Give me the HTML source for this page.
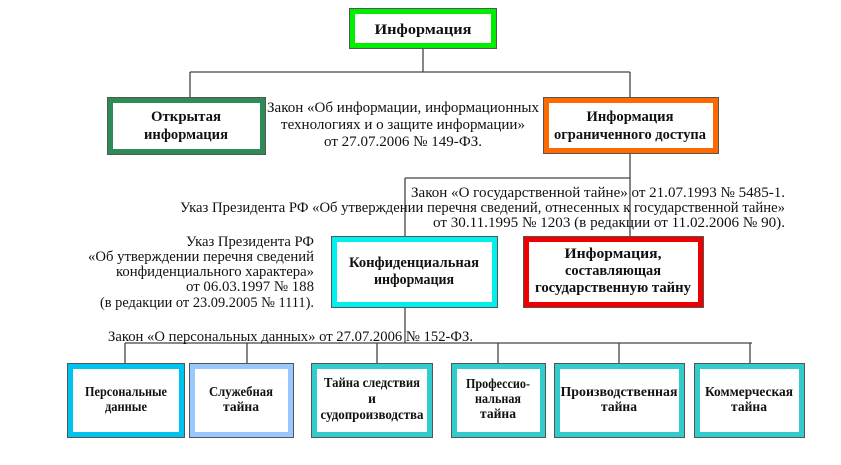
<!DOCTYPE html>
<html><head><meta charset="utf-8"><style>
html,body{margin:0;padding:0;background:#fff;width:841px;height:465px;overflow:hidden}
svg{display:block}
text{font-family:"Liberation Serif","DejaVu Serif",serif;fill:#111}
.b{font-weight:bold;font-size:15px}
.t{font-size:15px}
</style></head><body>
<svg width="841" height="465" viewBox="0 0 841 465" xmlns="http://www.w3.org/2000/svg">
<g stroke="#444" stroke-width="1.3" fill="none">
<path d="M423 48V72M190 72H630M190 72V97M630 72V97"/>
<path d="M630 153V178M405 178H630M405 178V237M630 178V237"/>
<path d="M405 308V343M125 343H752M125 343V363M247 343V363M377 343V363M498 343V363M619 343V363M750 343V363"/>
</g>
<g stroke-linejoin="miter">
<rect x="349.5" y="8.5" width="147" height="40" fill="#fff" stroke="#555" stroke-width="1"/>
<rect x="352.5" y="11.5" width="141" height="34" fill="#fff" stroke="#00ee00" stroke-width="5"/>
<rect x="107.5" y="97.5" width="158" height="57" fill="#fff" stroke="#555"/>
<rect x="110.5" y="100.5" width="152" height="51" fill="#fff" stroke="#2e8b57" stroke-width="5"/>
<rect x="543.5" y="97.5" width="175" height="56" fill="#fff" stroke="#555"/>
<rect x="546.5" y="100.5" width="169" height="50" fill="#fff" stroke="#ff6a00" stroke-width="5"/>
<rect x="331.5" y="236.5" width="166" height="71" fill="#fff" stroke="#555"/>
<rect x="334.5" y="239.5" width="160" height="65" fill="#fff" stroke="#00f0f0" stroke-width="5"/>
<rect x="523.5" y="236.5" width="180" height="71" fill="#fff" stroke="#555"/>
<rect x="526.5" y="239.5" width="174" height="65" fill="#fff" stroke="#ee0000" stroke-width="5"/>
<rect x="67.5" y="363.5" width="117" height="74" fill="#fff" stroke="#555"/>
<rect x="70.5" y="366.5" width="111" height="68" fill="#fff" stroke="#00c4f0" stroke-width="5"/>
<rect x="189.5" y="363.5" width="104" height="74" fill="#fff" stroke="#555"/>
<rect x="192.5" y="366.5" width="98" height="68" fill="#fff" stroke="#99c8ff" stroke-width="5"/>
<rect x="311.5" y="363.5" width="121" height="74" fill="#fff" stroke="#555"/>
<rect x="314.5" y="366.5" width="115" height="68" fill="#fff" stroke="#33cccc" stroke-width="5"/>
<rect x="451.5" y="363.5" width="94" height="74" fill="#fff" stroke="#555"/>
<rect x="454.5" y="366.5" width="88" height="68" fill="#fff" stroke="#33cccc" stroke-width="5"/>
<rect x="554.5" y="363.5" width="130" height="74" fill="#fff" stroke="#555"/>
<rect x="557.5" y="366.5" width="124" height="68" fill="#fff" stroke="#33cccc" stroke-width="5"/>
<rect x="694.5" y="363.5" width="110" height="74" fill="#fff" stroke="#555"/>
<rect x="697.5" y="366.5" width="104" height="68" fill="#fff" stroke="#33cccc" stroke-width="5"/>
</g>
<g class="b" text-anchor="middle">
<text x="423" y="34" textLength="97" lengthAdjust="spacingAndGlyphs">Информация</text>
<text x="186" y="121" textLength="70" lengthAdjust="spacingAndGlyphs">Открытая</text>
<text x="186" y="139" textLength="84" lengthAdjust="spacingAndGlyphs">информация</text>
<text x="630" y="121" textLength="87" lengthAdjust="spacingAndGlyphs">Информация</text>
<text x="630" y="139" textLength="152" lengthAdjust="spacingAndGlyphs">ограниченного доступа</text>
<text x="414" y="267" textLength="130" lengthAdjust="spacingAndGlyphs">Конфиденциальная</text>
<text x="414" y="284" textLength="80" lengthAdjust="spacingAndGlyphs">информация</text>
<text x="613" y="258" textLength="97" lengthAdjust="spacingAndGlyphs">Информация,</text>
<text x="613" y="275" textLength="96" lengthAdjust="spacingAndGlyphs">составляющая</text>
<text x="613" y="292" textLength="156" lengthAdjust="spacingAndGlyphs">государственную тайну</text>
<g style="font-size:13.5px">
<text x="126" y="396" textLength="82" lengthAdjust="spacingAndGlyphs">Персональные</text>
<text x="126" y="411" textLength="42" lengthAdjust="spacingAndGlyphs">данные</text>
<text x="241" y="396" textLength="64" lengthAdjust="spacingAndGlyphs">Служебная</text>
<text x="241" y="411" textLength="36" lengthAdjust="spacingAndGlyphs">тайна</text>
<text x="372" y="387" textLength="96" lengthAdjust="spacingAndGlyphs">Тайна следствия</text>
<text x="372" y="403">и</text>
<text x="372" y="419" textLength="103" lengthAdjust="spacingAndGlyphs">судопроизводства</text>
<text x="498" y="388" textLength="64" lengthAdjust="spacingAndGlyphs">Профессио-</text>
<text x="498" y="403" textLength="46" lengthAdjust="spacingAndGlyphs">нальная</text>
<text x="498" y="418" textLength="36" lengthAdjust="spacingAndGlyphs">тайна</text>
<text x="619" y="396" textLength="117" lengthAdjust="spacingAndGlyphs">Производственная</text>
<text x="619" y="411" textLength="36" lengthAdjust="spacingAndGlyphs">тайна</text>
<text x="749" y="396" textLength="88" lengthAdjust="spacingAndGlyphs">Коммерческая</text>
<text x="749" y="411" textLength="36" lengthAdjust="spacingAndGlyphs">тайна</text>
</g>
</g>
<g class="t">
<g text-anchor="middle">
<text x="403" y="112" textLength="272" lengthAdjust="spacingAndGlyphs">Закон «Об информации, информационных</text>
<text x="403" y="129" textLength="244" lengthAdjust="spacingAndGlyphs">технологиях и о защите информации»</text>
<text x="403" y="146" textLength="158" lengthAdjust="spacingAndGlyphs">от 27.07.2006  № 149-ФЗ.</text>
</g>
<g text-anchor="end">
<text x="785" y="197" textLength="374" lengthAdjust="spacingAndGlyphs">Закон «О государственной тайне»  от  21.07.1993  № 5485-1.</text>
<text x="785" y="212" textLength="605" lengthAdjust="spacingAndGlyphs">Указ Президента РФ «Об утверждении перечня сведений, отнесенных к государственной  тайне»</text>
<text x="785" y="227" textLength="352" lengthAdjust="spacingAndGlyphs">от 30.11.1995 № 1203 (в редакции  от  11.02.2006  № 90).</text>
<text x="314" y="246" textLength="128" lengthAdjust="spacingAndGlyphs">Указ Президента РФ</text>
<text x="314" y="261" textLength="226" lengthAdjust="spacingAndGlyphs">«Об утверждении перечня сведений</text>
<text x="314" y="276" textLength="198" lengthAdjust="spacingAndGlyphs">конфиденциального характера»</text>
<text x="314" y="291" textLength="128" lengthAdjust="spacingAndGlyphs">от 06.03.1997  № 188</text>
<text x="314" y="307" textLength="214" lengthAdjust="spacingAndGlyphs">(в редакции от 23.09.2005 № 1111).</text>
</g>
<text x="108" y="341" textLength="365" lengthAdjust="spacingAndGlyphs">Закон «О персональных данных»  от 27.07.2006  № 152-ФЗ.</text>
</g>
</svg>
</body></html>
